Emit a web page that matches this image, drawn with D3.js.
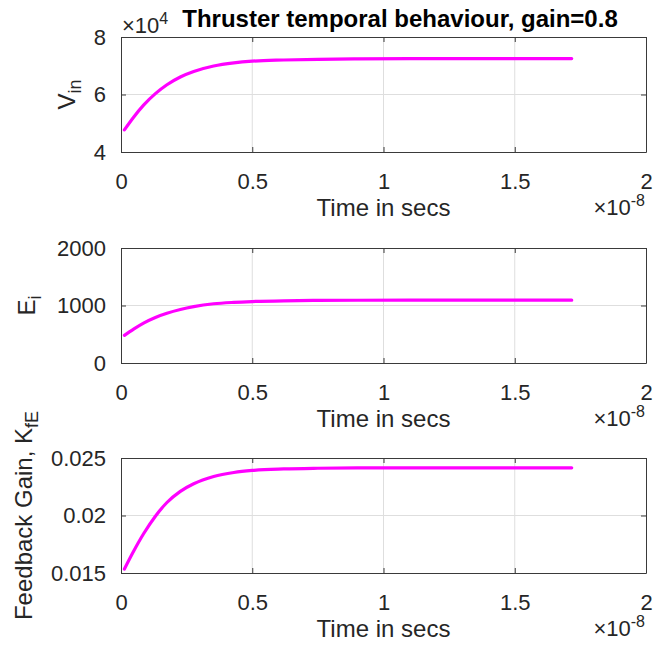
<!DOCTYPE html>
<html>
<head>
<meta charset="utf-8">
<script src="https://cdn.jsdelivr.net/npm/d3@7"></script>
<style>
  body { margin: 0; background: #fff; }
  text { font-family: Arial, "Liberation Sans", Helvetica, sans-serif; fill: #262626; }
</style>
</head>
<body>
<div id="chart"></div>
<script>
// time in units of 1e-8 s
var timeVals = [0.013, 0.048, 0.086, 0.131, 0.175, 0.226, 0.277, 0.353, 0.43, 0.5, 0.62, 0.75, 0.9, 1.1, 1.3, 1.5, 1.717];
// V_in in units of 1e4
var vinVals = [4.77, 5.21, 5.63, 6.03, 6.34, 6.61, 6.80, 6.99, 7.10, 7.16, 7.20, 7.225, 7.24, 7.25, 7.25, 7.25, 7.25];
var eiVals = [480, 590, 695, 793, 865, 930, 980, 1030, 1055, 1069, 1082, 1088, 1091, 1092, 1092, 1092, 1092];
var kfeVals = [0.01535, 0.01689, 0.01841, 0.01994, 0.02113, 0.0221, 0.02276, 0.02339, 0.02374, 0.02392, 0.02405, 0.02411, 0.02414, 0.02415, 0.02415, 0.02415, 0.02415];

var xTicks = [0, 0.5, 1, 1.5, 2];
var vinTicks = [4, 6, 8];
var eiTicks = [0, 1000, 2000];
var kfeTicks = [0.015, 0.02, 0.025];

var titleText = "Thruster temporal behaviour, gain=0.8";
var xLabel = "Time in secs";

var W = 657, H = 648;
var left = 121, right = 646, ph = 115;
var tops = [37, 248, 458];

var svg = d3.select("#chart").append("svg").attr("width", W).attr("height", H);

var x = d3.scaleLinear().domain([0, 2]).range([left, right]);

var panels = [
  {vals: vinVals, dom: [4, 8], ticks: vinTicks, lab: ["V", "in"], labX: 75},
  {vals: eiVals, dom: [0, 2000], ticks: eiTicks, lab: ["E", "i"], labX: 35},
  {vals: kfeVals, dom: [0.015, 0.025], ticks: kfeTicks, lab: ["Feedback Gain, K", "fE"], labX: 32}
];

function expLabel(xx, yy, anchor, sup) {
  var t = svg.append("text").attr("x", xx).attr("y", yy).attr("text-anchor", anchor);
  t.append("tspan").style("font-size", "22px").text("\u00d710");
  t.append("tspan").attr("dy", -9).style("font-size", "16px").text(sup);
  return t;
}

panels.forEach(function(p, i) {
  var top = tops[i], bot = top + ph;
  var y = d3.scaleLinear().domain(p.dom).range([bot, top]);
  var g = svg.append("g");

  // grid
  g.selectAll(".gx").data(xTicks.slice(1, -1)).enter().append("line")
    .attr("x1", function(d) { return x(d); }).attr("x2", function(d) { return x(d); })
    .attr("y1", top).attr("y2", bot)
    .style("stroke", "#dedede").style("stroke-width", 1);
  g.selectAll(".gy").data(p.ticks.slice(1, -1)).enter().append("line")
    .attr("y1", function(d) { return y(d); }).attr("y2", function(d) { return y(d); })
    .attr("x1", left).attr("x2", right)
    .style("stroke", "#dedede").style("stroke-width", 1);

  // line
  var line = d3.line()
    .x(function(d, j) { return x(timeVals[j]); })
    .y(function(d) { return y(d); })
    .curve(d3.curveMonotoneX);
  g.append("path").datum(p.vals)
    .attr("d", line)
    .style("fill", "none").style("stroke", "#ff00ff").style("stroke-width", 3.2)
    .style("stroke-linecap", "round");

  // axes with inward ticks, mirrored
  var xb = d3.axisBottom(x).tickValues(xTicks).tickSizeInner(-5).tickSizeOuter(0)
    .tickFormat(function(d) { return String(d); }).tickPadding(21);
  var xt = d3.axisTop(x).tickValues(xTicks).tickSizeInner(-5).tickSizeOuter(0).tickFormat("");
  var yl = d3.axisLeft(y).tickValues(p.ticks).tickSizeInner(-5).tickSizeOuter(0)
    .tickFormat(function(d) { return String(+d.toFixed(4)); }).tickPadding(15);
  var yr = d3.axisRight(y).tickValues(p.ticks).tickSizeInner(-5).tickSizeOuter(0).tickFormat("");

  [[xb, "translate(0," + bot + ")"], [xt, "translate(0," + top + ")"],
   [yl, "translate(" + left + ",0)"], [yr, "translate(" + right + ",0)"]].forEach(function(a) {
    var ag = g.append("g").attr("transform", a[1]).call(a[0]);
    ag.selectAll("path, line").style("stroke", "#3a3a3a").style("stroke-width", 1);
    ag.selectAll("text").style("font-size", "22px").style("fill", "#262626")
      .style("font-family", "Arial, 'Liberation Sans', sans-serif");
  });

  // x label
  g.append("text").attr("x", (left + right) / 2).attr("y", bot + 64)
    .attr("text-anchor", "middle").style("font-size", "24px").text(xLabel);

  // x exponent
  expLabel(right - 1, bot + 63, "end", "-8");

  // y label
  var yt = g.append("text")
    .attr("transform", "translate(" + p.labX + "," + (top + ph / 2) + ") rotate(-90)")
    .attr("text-anchor", "middle");
  yt.append("tspan").style("font-size", "24px").text(p.lab[0]);
  yt.append("tspan").attr("dy", 6).style("font-size", "18px").text(p.lab[1]);
});

// y exponent of first panel
expLabel(122, 33, "start", "4");

// title
svg.append("text").attr("x", 400).attr("y", 27).attr("text-anchor", "middle")
  .style("font-size", "24px").style("font-weight", "bold").style("fill", "#000")
  .text(titleText);
</script>
</body>
</html>
